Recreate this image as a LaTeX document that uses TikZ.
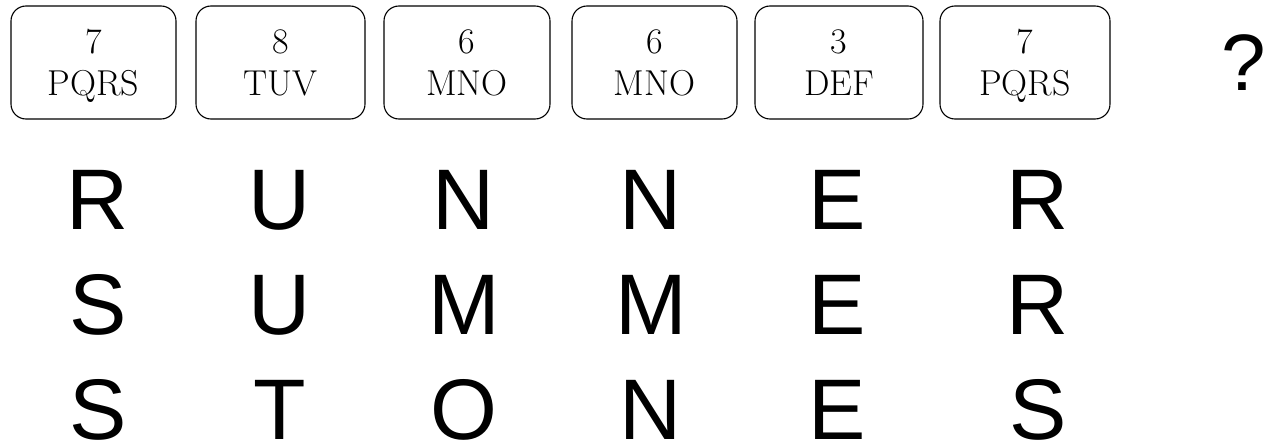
\documentclass[tikz,border=0pt]{standalone}
\usepackage{fontspec}
\setmainfont{Latin Modern Roman}
\newfontfamily\arialfont{Liberation Sans}
\begin{document}
\begin{tikzpicture}[x=1pt,y=-1pt,
  keybox/.style={draw=black, line width=1.1pt, rounded corners=15pt, minimum height=113pt, inner sep=0pt},
  keytxt/.style={anchor=base, inner sep=0pt, font=\fontsize{36}{40}\selectfont},
  bigletter/.style={anchor=base, inner sep=0pt, font=\arialfont\fontsize{86}{90}\selectfont}]
\useasboundingbox (0,0) rectangle (1268,444);
% keys
\foreach \l/\r/\d/\t [count=\i] in {11/176/7/PQRS, 196/365/8/TUV, 384/550/6/MNO, 572/737/6/MNO, 755/923/3/DEF, 940/1110/7/PQRS}{
  \pgfmathsetmacro{\cx}{(\l+\r)/2}
  \pgfmathsetmacro{\w}{\r-\l}
  \node[keybox, minimum width=\w pt] (key\i) at (\cx,62.5) {};
  \node[keytxt] (dig\i) at (\cx,53) {\d};
  \node[keytxt] (let\i) at (\cx,95) {\t};
}
\node[bigletter, font=\arialfont\fontsize{80}{84}\selectfont] (q) at (1244,90) {?};
% word rows
\foreach \a/\b/\c/\dd/\e/\f [count=\j] in {R/U/N/N/E/R, S/U/M/M/E/R, S/T/O/N/E/S}{
  \pgfmathsetmacro{\yy}{229+105*(\j-1)}
  \node[bigletter] (w\j a) at (98,\yy) {\a};
  \node[bigletter] (w\j b) at (280,\yy) {\b};
  \node[bigletter] (w\j c) at (464,\yy) {\c};
  \node[bigletter] (w\j d) at (651,\yy) {\dd};
  \node[bigletter] (w\j e) at (837,\yy) {\e};
  \node[bigletter] (w\j f) at (1038,\yy) {\f};
}
\end{tikzpicture}
\end{document}
